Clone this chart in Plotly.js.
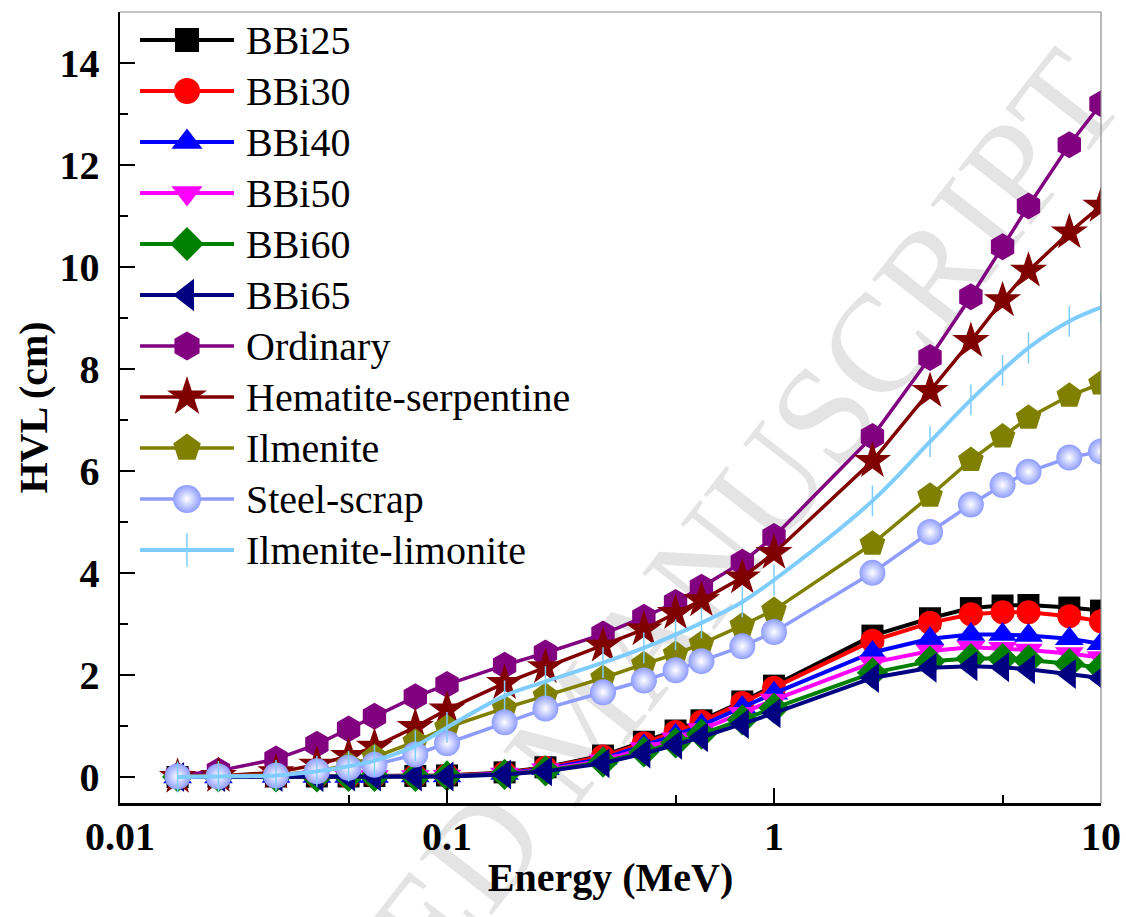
<!DOCTYPE html>
<html>
<head>
<meta charset="utf-8">
<script src="https://cdn.plot.ly/plotly-3.0.1.min.js"></script>
<style>
  html, body { margin: 0; padding: 0; background: #ffffff; }
  #wrap { position: relative; width: 1126px; height: 917px; overflow: hidden; background: #ffffff; }
  #wm {
    position: absolute; left: 580px; top: 725px;
    transform: translate(-50%, -50%) rotate(-52deg);
    font-family: "Liberation Serif", "Times New Roman", serif;
    font-size: 140px; color: #e4e4e4; white-space: nowrap; z-index: 0;
  }
  #chart { position: absolute; left: 0; top: 0; width: 1126px; height: 917px; z-index: 1; }
</style>
</head>
<body>
<div id="wrap">
  <div id="wm">ACCEPTED MANUSCRIPT</div>
  <div id="chart"></div>
</div>
<script>
// ---- data ----
const energy = [0.015,0.02,0.03,0.04,0.05,0.06,0.08,0.1,0.15,0.2,0.3,0.4,0.5,0.6,0.8,1,2,3,4,5,6,8,10];

const bbi25 = [0.01,0.01,0.02,0.02,0.02,0.03,0.03,0.04,0.10,0.20,0.43,0.70,0.92,1.12,1.49,1.80,2.78,3.12,3.32,3.37,3.38,3.33,3.27];
const bbi30 = [0.01,0.01,0.02,0.02,0.02,0.03,0.03,0.04,0.09,0.19,0.41,0.67,0.89,1.09,1.46,1.76,2.68,3.03,3.20,3.24,3.24,3.16,3.06];
const bbi40 = [0.01,0.01,0.02,0.02,0.02,0.02,0.03,0.03,0.08,0.17,0.37,0.62,0.83,1.02,1.37,1.65,2.45,2.72,2.80,2.80,2.78,2.72,2.62];
const bbi50 = [0.01,0.01,0.01,0.02,0.02,0.02,0.02,0.03,0.07,0.15,0.33,0.57,0.76,0.94,1.26,1.52,2.25,2.48,2.55,2.53,2.50,2.43,2.35];
const bbi60 = [0.01,0.01,0.01,0.01,0.02,0.02,0.02,0.03,0.06,0.13,0.30,0.50,0.68,0.85,1.13,1.36,2.05,2.28,2.33,2.33,2.30,2.23,2.15];
const bbi65 = [0.01,0.01,0.01,0.01,0.02,0.02,0.02,0.02,0.06,0.12,0.28,0.47,0.64,0.79,1.05,1.26,1.95,2.15,2.18,2.16,2.12,2.03,1.95];
const ordinary = [0.04,0.13,0.36,0.65,0.95,1.20,1.58,1.82,2.20,2.44,2.81,3.14,3.43,3.73,4.22,4.72,6.68,8.23,9.42,10.40,11.20,12.40,13.20];
const hematiteSerpentine = [0.01,0.03,0.10,0.25,0.42,0.60,0.99,1.33,1.85,2.16,2.58,2.90,3.22,3.47,3.92,4.40,6.20,7.57,8.55,9.35,9.93,10.68,11.20];
const ilmenite = [0.02,0.03,0.05,0.12,0.25,0.40,0.70,0.98,1.36,1.60,1.95,2.22,2.42,2.62,2.98,3.28,4.58,5.52,6.22,6.68,7.05,7.48,7.72];
const steelScrap = [0.02,0.02,0.04,0.12,0.19,0.25,0.45,0.67,1.08,1.35,1.67,1.90,2.10,2.28,2.57,2.85,4.01,4.81,5.35,5.73,5.99,6.27,6.39];
const ilmeniteLimonite = [0.01,0.02,0.04,0.12,0.22,0.33,0.62,0.98,1.60,1.88,2.25,2.54,2.80,3.03,3.44,3.87,5.42,6.58,7.40,7.98,8.42,8.94,9.21];

const seriesNames = ["BBi25","BBi30","BBi40","BBi50","BBi60","BBi65","Ordinary","Hematite-serpentine","Ilmenite","Steel-scrap","Ilmenite-limonite"];
const seriesValues = [bbi25,bbi30,bbi40,bbi50,bbi60,bbi65,ordinary,hematiteSerpentine,ilmenite,steelScrap,ilmeniteLimonite];

const xTickVals = [0.01,0.1,1,10];
const xTickText = ["0.01","0.1","1","10"];
const xMinorVals = [0.05,0.5,5];
const yTickVals = [0,2,4,6,8,10,12,14];

// ---- styles ----
const styles = [
  {color:"#000000", symbol:"square",        size:22, lw:4},
  {color:"#FF0000", symbol:"circle",        size:24, lw:4},
  {color:"#0000FF", symbol:"triangle-up",   size:25, lw:4},
  {color:"#FF00FF", symbol:"triangle-down", size:25, lw:4},
  {color:"#008000", symbol:"diamond",       size:24, lw:4},
  {color:"#000080", symbol:"triangle-left", size:26, lw:4},
  {color:"#800080", symbol:"hexagon",       size:27, lw:3.5},
  {color:"#800000", symbol:"star",          size:28, lw:3.5},
  {color:"#808000", symbol:"pentagon",      size:27, lw:3.5},
  {color:"#8E9CFF", symbol:"circle",        size:26, lw:3.5, gradient:true},
  {color:"#7FCCFF", symbol:"line-ns",       size:22, lw:4, spline:true}
];

function markerFor(st, size) {
  const m = {symbol: st.symbol, size: size, color: st.color, opacity: 1, line: {width: 0, color: st.color}};
  if (st.symbol === "line-ns") { m.line = {width: 1.5, color: st.color}; }
  if (st.gradient) { m.gradient = {type: "radial", color: "#ffffff"}; }
  return m;
}

const traces = [];
seriesNames.forEach((name, i) => {
  const st = styles[i];
  traces.push({
    type: "scatter", mode: "lines+markers", name: name,
    x: energy, y: seriesValues[i],
    line: {color: st.color, width: st.lw, shape: st.spline ? "spline" : "linear"},
    marker: markerFor(st, st.size),
    showlegend: false, hoverinfo: "skip"
  });
});

// ---- legend drawn in pixel-like overlay axes ----
const serif = "Liberation Serif";
const annotations = [];
const legTop = 40, legStep = 51, legX0 = 140, legXm = 187, legX1 = 234, legText = 244;
seriesNames.forEach((name, i) => {
  const st = styles[i];
  const cy = legTop + legStep * i;
  traces.push({
    type: "scatter", mode: "lines+markers", xaxis: "x2", yaxis: "y2",
    x: [legX0, legXm, legX1], y: [cy, cy, cy],
    line: {color: st.color, width: st.lw},
    marker: Object.assign(markerFor(st, st.size), {size: [0, st.size + 2, 0], opacity: 1}),
    showlegend: false, hoverinfo: "skip"
  });
  annotations.push({
    xref: "x2", yref: "y2", x: legText, y: cy, xanchor: "left", yanchor: "middle",
    text: name, showarrow: false,
    font: {family: serif, size: 40, color: "#000000"}
  });
});

const layout = {
  width: 1126, height: 917,
  margin: {l: 120, r: 25, t: 12, b: 114},
  paper_bgcolor: "rgba(0,0,0,0)",
  plot_bgcolor: "rgba(0,0,0,0)",
  showlegend: false,
  font: {family: serif, color: "#000"},
  xaxis: {
    type: "log", range: [-2, 1],
    tickmode: "array", tickvals: xTickVals, ticktext: xTickText,
    ticks: "inside", ticklen: 15, tickwidth: 2, tickcolor: "#000",
    minor: {tickmode: "array", tickvals: xMinorVals, ticks: "inside", ticklen: 8, tickwidth: 2, tickcolor: "#000", showgrid: false},
    showline: true, linecolor: "#000", linewidth: 2.5, mirror: false,
    showgrid: false, zeroline: false,
    ticklabelstandoff: -4,
    tickfont: {family: serif, size: 40, weight: "bold", color: "#000"},
    title: {text: "Energy (MeV)", standoff: 6, font: {family: serif, size: 40, weight: "bold", color: "#000"}}
  },
  yaxis: {
    range: [-0.5, 15],
    tickmode: "array", tickvals: yTickVals,
    ticks: "inside", ticklen: 15, tickwidth: 2, tickcolor: "#000",
    minor: {dtick: 1, tick0: 0, ticks: "inside", ticklen: 8, tickwidth: 2, tickcolor: "#000", showgrid: false},
    showline: true, linecolor: "#000", linewidth: 2.5, mirror: false,
    showgrid: false, zeroline: false,
    ticklabelstandoff: 10,
    tickfont: {family: serif, size: 40, weight: "bold", color: "#000"},
    title: {text: "HVL (cm)", standoff: 0, font: {family: serif, size: 40, weight: "bold", color: "#000"}}
  },
  xaxis2: {overlaying: "x", anchor: "y2", range: [120, 1101], visible: false, fixedrange: true},
  yaxis2: {overlaying: "y", anchor: "x2", range: [803, 12], visible: false, fixedrange: true},
  shapes: [
    {type: "line", xref: "paper", yref: "paper", x0: 0, x1: 1, y0: 1, y1: 1, line: {color: "#8a8a8a", width: 1.2}},
    {type: "line", xref: "paper", yref: "paper", x0: 1, x1: 1, y0: 0, y1: 1, line: {color: "#8a8a8a", width: 1.2}}
  ],
  annotations: annotations
};

Plotly.newPlot("chart", traces, layout, {staticPlot: true, displayModeBar: false});
</script>
</body>
</html>
